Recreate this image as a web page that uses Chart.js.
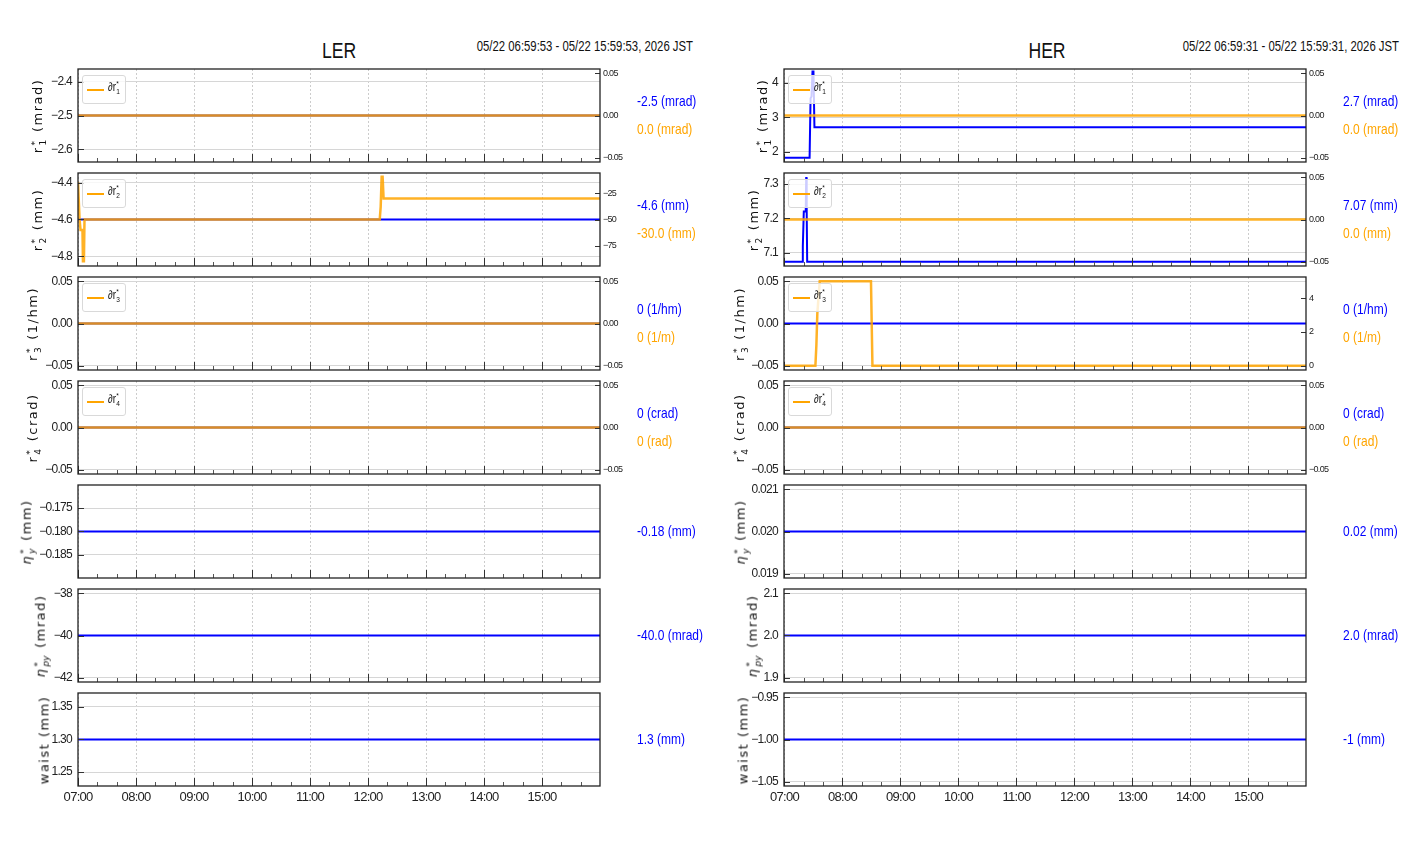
<!DOCTYPE html>
<html>
<head>
<meta charset="utf-8">
<script src="https://cdn.jsdelivr.net/npm/chart.js@4.4.1/dist/chart.umd.min.js"></script>
<style>
  body { margin: 0; background: #fff; }
  #fig { position: relative; width: 1412px; height: 864px; overflow: hidden;
         font-family: 'Liberation Sans', Arial, sans-serif; color: #111; }
  #fig canvas { position: absolute; }
  .t { position: absolute; white-space: nowrap; }
  .ylab { position: absolute; white-space: nowrap; font-family: 'DejaVu Sans', sans-serif; font-size: 13px;
          letter-spacing: 1.5px; transform: translate(-50%, -50%) rotate(-90deg); color: #111; }
  .ss { display: inline-flex; flex-direction: column; vertical-align: middle; font-size: 9px;
        line-height: 8px; letter-spacing: 0; margin-left: 1px; margin-right: 2px; }
  .lg { position: absolute; width: 42px; height: 27px; border: 1px solid #d9d9d9; border-radius: 3px;
        background: rgba(255,255,255,0.8); z-index: 2; }
  .lgline { position: absolute; left: 4px; top: 13px; width: 17px; height: 2px; background: #ffa500; }
  .lgtxt { position: absolute; left: 25px; top: 4px; font-size: 12px; white-space: nowrap;
           transform: scaleX(0.82); transform-origin: left center; }
  .lgtxt .ss { font-size: 8px; line-height: 8px; margin-left: 0; }
</style>
</head>
<body>
<div id="fig"></div>
<script>
const TICKFONT = "'Liberation Sans', Arial, sans-serif";
const BLUE = '#0000ff';
const ORANGE = 'rgba(255,165,0,0.85)';

// x axis in minutes after 07:00
const hourTicks = [0, 60, 120, 180, 240, 300, 360, 420, 480];
const minorTicks = [20, 40, 80, 100, 140, 160, 200, 220, 260, 280, 320, 340, 380, 400, 440, 460, 500, 520];
const lerRange = [-0.12, 539.88];   // 06:59:53 - 15:59:53
const herRange = [-0.48, 539.52];   // 06:59:31 - 15:59:31

// LER series
const lerFlat = [-0.12, 539.88];
const lerR1 = [-2.5, -2.5];
const lerDr1 = [0, 0];
const lerR2 = [-4.6, -4.6];
const lerDr2Time = [-0.12, 1.5, 2.5, 4.5, 5, 6, 6.6, 312, 313, 314, 315, 316, 539.88];
const lerDr2 = [-14, -50, -60, -60, -90, -90, -50, -50, -38, -9, -9, -30, -30];
const lerR3 = [0, 0];
const lerDr3 = [0, 0];
const lerR4 = [0, 0];
const lerDr4 = [0, 0];
const lerNy = [-0.18, -0.18];
const lerNpy = [-40, -40];
const lerWaist = [1.3, 1.3];

// HER series
const herFlat = [-0.48, 539.52];
const herR1Time = [-0.48, 26, 27, 28, 29, 30, 31, 539.52];
const herR1 = [1.82, 1.82, 3.55, 3.6, 4.33, 4.33, 2.71, 2.71];
const herDr1 = [0, 0];
const herR2Time = [-0.48, 18.5, 19, 20, 22, 22.5, 23, 23.5, 539.52];
const herR2 = [7.074, 7.074, 7.12, 7.22, 7.22, 7.32, 7.22, 7.074, 7.074];
const herDr2 = [0, 0];
const herR3 = [0, 0];
const herDr3Time = [-0.48, 32, 33, 34, 36.5, 89.5, 91, 539.52];
const herDr3 = [0, 0, 1.2, 3.1, 5, 5, 0, 0];
const herR4 = [0, 0];
const herDr4 = [0, 0];
const herNy = [0.02, 0.02];
const herNpy = [2.0, 2.0];
const herWaist = [-1, -1];

// tick labels
const smallTicks = [-0.05, 0, 0.05];
const lerLeftTicks = [[-2.6, -2.5, -2.4], [-4.8, -4.6, -4.4], smallTicks, smallTicks, [-0.185, -0.18, -0.175], [-42, -40, -38], [1.25, 1.3, 1.35]];
const lerRightTicks = [smallTicks, [-75, -50, -25], smallTicks, smallTicks];
const herLeftTicks = [[2, 3, 4], [7.1, 7.2, 7.3], smallTicks, smallTicks, [0.019, 0.02, 0.021], [1.9, 2.0, 2.1], [-1.05, -1.0, -0.95]];
const herRightTicks = [smallTicks, smallTicks, [0, 2, 4], smallTicks];

const names = [
  'r<span class="ss"><span>*</span><span>1</span></span> (mrad)',
  'r<span class="ss"><span>*</span><span>2</span></span> (mm)',
  'r<span class="ss"><span>*</span><span>3</span></span> (1/hm)',
  'r<span class="ss"><span>*</span><span>4</span></span> (crad)',
  '<i>η</i><span class="ss"><span>*</span><span><i>y</i></span></span> (mm)',
  '<i>η</i><span class="ss"><span>*</span><span><i>py</i></span></span> (mrad)',
  'waist (mm)'
];
const legendNames = ['1', '2', '3', '4'];

const columns = [
  {
    title: 'LER', date: '05/22 06:59:53 - 05/22 15:59:53, 2026 JST', plotLeft: 78, range: lerRange,
    titleX: 339, dateRight: 693, valueX: 637,
    labelX: [38, 38, 33, 33, 27, 41, 44],
    panels: [
      { bt: lerFlat, bv: lerR1, ot: lerFlat, ov: lerDr1, lim: [-2.6375, -2.3625], ticks: lerLeftTicks[0], dec: 1, lim2: [-0.055, 0.055], ticks2: lerRightTicks[0], dec2: 2, val: '-2.5 (mrad)', val2: '0.0 (mrad)' },
      { bt: lerFlat, bv: lerR2, ot: lerDr2Time, ov: lerDr2, lim: [-4.853, -4.347], ticks: lerLeftTicks[1], dec: 1, lim2: [-94.5, -5.5], ticks2: lerRightTicks[1], dec2: 0, val: '-4.6 (mm)', val2: '-30.0 (mm)' },
      { bt: lerFlat, bv: lerR3, ot: lerFlat, ov: lerDr3, lim: [-0.055, 0.055], ticks: lerLeftTicks[2], dec: 2, lim2: [-0.055, 0.055], ticks2: lerRightTicks[2], dec2: 2, val: '0 (1/hm)', val2: '0 (1/m)' },
      { bt: lerFlat, bv: lerR4, ot: lerFlat, ov: lerDr4, lim: [-0.055, 0.055], ticks: lerLeftTicks[3], dec: 2, lim2: [-0.055, 0.055], ticks2: lerRightTicks[3], dec2: 2, val: '0 (crad)', val2: '0 (rad)' },
      { bt: lerFlat, bv: lerNy, lim: [-0.1899, -0.1701], ticks: lerLeftTicks[4], dec: 3, val: '-0.18 (mm)' },
      { bt: lerFlat, bv: lerNpy, lim: [-42.2, -37.8], ticks: lerLeftTicks[5], dec: 0, val: '-40.0 (mrad)' },
      { bt: lerFlat, bv: lerWaist, lim: [1.2285, 1.3715], ticks: lerLeftTicks[6], dec: 2, val: '1.3 (mm)' }
    ]
  },
  {
    title: 'HER', date: '05/22 06:59:31 - 05/22 15:59:31, 2026 JST', plotLeft: 784, range: herRange,
    titleX: 1047, dateRight: 1399, valueX: 1343,
    labelX: [763, 754, 740, 740, 741, 753, 743],
    panels: [
      { bt: herR1Time, bv: herR1, ot: herFlat, ov: herDr1, lim: [1.70, 4.40], ticks: herLeftTicks[0], dec: 0, lim2: [-0.055, 0.055], ticks2: herRightTicks[0], dec2: 2, val: '2.7 (mrad)', val2: '0.0 (mrad)' },
      { bt: herR2Time, bv: herR2, ot: herFlat, ov: herDr2, lim: [7.062, 7.332], ticks: herLeftTicks[1], dec: 1, lim2: [-0.055, 0.055], ticks2: herRightTicks[1], dec2: 2, val: '7.07 (mm)', val2: '0.0 (mm)' },
      { bt: herFlat, bv: herR3, ot: herDr3Time, ov: herDr3, lim: [-0.055, 0.055], ticks: herLeftTicks[2], dec: 2, lim2: [-0.25, 5.25], ticks2: herRightTicks[2], dec2: 0, val: '0 (1/hm)', val2: '0 (1/m)' },
      { bt: herFlat, bv: herR4, ot: herFlat, ov: herDr4, lim: [-0.055, 0.055], ticks: herLeftTicks[3], dec: 2, lim2: [-0.055, 0.055], ticks2: herRightTicks[3], dec2: 2, val: '0 (crad)', val2: '0 (rad)' },
      { bt: herFlat, bv: herNy, lim: [0.0189, 0.0211], ticks: herLeftTicks[4], dec: 3, val: '0.02 (mm)' },
      { bt: herFlat, bv: herNpy, lim: [1.89, 2.11], ticks: herLeftTicks[5], dec: 1, val: '2.0 (mrad)' },
      { bt: herFlat, bv: herWaist, lim: [-1.055, -0.945], ticks: herLeftTicks[6], dec: 2, val: '-1 (mm)' }
    ]
  }
];

const PLOT_W = 522, PLOT_H = 93, ROW0 = 69, ROW_STEP = 104;
const fig = document.getElementById('fig');

function fmt(v, dec) { return v.toFixed(dec).replace('-', '\u2212'); }
function fmtTime(v) {
  const m = Math.round(v) + 420;
  return String(Math.floor(m / 60)).padStart(2, '0') + ':' + String(m % 60).padStart(2, '0');
}
function pairs(t, v) { return t.map((x, i) => ({ x: x, y: v[i] })); }
function fixWidth(w) {
  return s => { s.width = w; s.paddingLeft = s.paddingRight = s.paddingTop = s.paddingBottom = 0; };
}
function fixHeight(h) {
  return s => { s.height = h; s.paddingLeft = s.paddingRight = s.paddingTop = s.paddingBottom = 0; };
}
function addText(html, style, cls) {
  const d = document.createElement('div');
  d.className = cls || 't';
  d.innerHTML = html;
  Object.assign(d.style, style);
  fig.appendChild(d);
  return d;
}

// narrow the tick label text a bit (reference uses a condensed face)
const tightText = {
  id: 'tightText',
  beforeUpdate(chart) { chart.ctx.letterSpacing = '-0.7px'; },
  beforeDraw(chart) { chart.ctx.letterSpacing = '-0.7px'; }
};

// frame and inward tick marks
const framePlugin = {
  id: 'frame',
  afterDraw(chart) {
    const { ctx, chartArea: a, scales } = chart;
    const seg = (x1, y1, x2, y2) => { ctx.beginPath(); ctx.moveTo(x1, y1); ctx.lineTo(x2, y2); ctx.stroke(); };
    ctx.save();
    ctx.lineWidth = 1;
    ctx.strokeStyle = '#555';
    minorTicks.forEach(t => {
      const px = Math.round(scales.x.getPixelForValue(t)) + 0.5;
      seg(px, a.bottom, px, a.bottom - 4);
    });
    ctx.strokeStyle = '#333';
    hourTicks.forEach(t => {
      const px = Math.round(scales.x.getPixelForValue(t)) + 0.5;
      seg(px, a.bottom, px, a.bottom - 8);
    });
    scales.y.ticks.forEach(t => {
      const py = Math.round(scales.y.getPixelForValue(t.value)) + 0.5;
      seg(a.left, py, a.left + 6, py);
    });
    if (scales.y2) {
      scales.y2.ticks.forEach(t => {
        const py = Math.round(scales.y2.getPixelForValue(t.value)) + 0.5;
        seg(a.right, py, a.right - 5, py);
      });
    }
    ctx.strokeStyle = '#222';
    ctx.lineWidth = 1.3;
    ctx.strokeRect(a.left, a.top, a.right - a.left, a.bottom - a.top);
    ctx.restore();
  }
};

columns.forEach(col => {
  addText(col.title, { left: col.titleX + 'px', top: '51px', fontSize: '22px',
                       transform: 'translate(-50%,-50%) scaleX(0.8)' });
  addText(col.date, { left: (col.dateRight - 300) + 'px', width: '300px', textAlign: 'right', top: '46px',
                      fontSize: '14px', transform: 'translateY(-50%) scaleX(0.81)', transformOrigin: 'right center' });

  col.panels.forEach((p, row) => {
    const plotTop = ROW0 + row * ROW_STEP;
    const bottomRow = row === col.panels.length - 1;
    const hasRight = !!p.ov;
    const canvas = document.createElement('canvas');
    const cw = 70 + PLOT_W + 40;
    const ch = 10 + PLOT_H + (bottomRow ? 26 : 6);
    canvas.width = cw; canvas.height = ch;
    canvas.style.left = (col.plotLeft - 70) + 'px';
    canvas.style.top = (plotTop - 10) + 'px';
    canvas.style.width = cw + 'px'; canvas.style.height = ch + 'px';
    fig.appendChild(canvas);

    const datasets = [];
    if (hasRight) {
      datasets.push({ data: pairs(p.ot, p.ov), yAxisID: 'y2', borderColor: ORANGE, borderWidth: 2.5,
                      pointRadius: 0, tension: 0, order: 0 });
    }
    datasets.push({ data: pairs(p.bt, p.bv), yAxisID: 'y', borderColor: BLUE, borderWidth: 2,
                    pointRadius: 0, tension: 0, order: 1 });

    const scales = {
      x: {
        type: 'linear', min: col.range[0], max: col.range[1],
        afterBuildTicks: s => { s.ticks = hourTicks.map(v => ({ value: v })); },
        afterFit: fixHeight(bottomRow ? 22 : 0),
        grid: { color: '#cccccc', lineWidth: 1, drawTicks: false },
        border: { display: false, dash: [2, 2] },
        ticks: { display: bottomRow, autoSkip: false, maxRotation: 0, padding: 4, color: '#222',
                 font: { family: TICKFONT, size: 13 }, callback: v => fmtTime(v) }
      },
      y: {
        type: 'linear', position: 'left', min: p.lim[0], max: p.lim[1],
        afterBuildTicks: s => { s.ticks = p.ticks.map(v => ({ value: v })); },
        afterFit: fixWidth(70),
        grid: { color: '#d6d6d6', lineWidth: 1, drawTicks: false },
        border: { display: false },
        ticks: { padding: 6, color: '#222', font: { family: TICKFONT, size: 12 }, callback: v => fmt(v, p.dec) }
      }
    };
    if (hasRight) {
      scales.y2 = {
        type: 'linear', position: 'right', min: p.lim2[0], max: p.lim2[1],
        afterBuildTicks: s => { s.ticks = p.ticks2.map(v => ({ value: v })); },
        afterFit: fixWidth(40),
        grid: { drawOnChartArea: false, drawTicks: false },
        border: { display: false },
        ticks: { padding: 3, color: '#222', font: { family: TICKFONT, size: 9 }, callback: v => fmt(v, p.dec2) }
      };
    }

    new Chart(canvas, {
      type: 'line',
      data: { datasets: datasets },
      options: {
        responsive: false, animation: false, devicePixelRatio: 1,
        layout: { padding: { top: 10, bottom: bottomRow ? 4 : 6, left: 0, right: hasRight ? 0 : 40 } },
        plugins: { legend: { display: false }, tooltip: { enabled: false } },
        scales: scales
      },
      plugins: [tightText, framePlugin]
    });

    const mid = plotTop + PLOT_H / 2;
    const valStyle = { left: col.valueX + 'px', fontSize: '15px', transform: 'translateY(-50%) scaleX(0.8)',
                       transformOrigin: 'left center' };
    addText(names[row], { left: col.labelX[row] + 'px', top: mid + 'px' }, 'ylab');
    if (hasRight) {
      addText(p.val, Object.assign({}, valStyle, { top: (mid - 16) + 'px', color: BLUE }));
      addText(p.val2, Object.assign({}, valStyle, { top: (mid + 12) + 'px', color: '#ffa500' }));
      addText('<span class="lgline"></span><span class="lgtxt">\u2202r<span class="ss"><span>*</span><span>' +
              legendNames[row] + '</span></span></span>',
              { left: (col.plotLeft + 4) + 'px', top: (plotTop + 6) + 'px' }, 'lg');
    } else {
      addText(p.val, Object.assign({}, valStyle, { top: (mid - 1.5) + 'px', color: BLUE }));
    }
  });
});
</script>
</body>
</html>
